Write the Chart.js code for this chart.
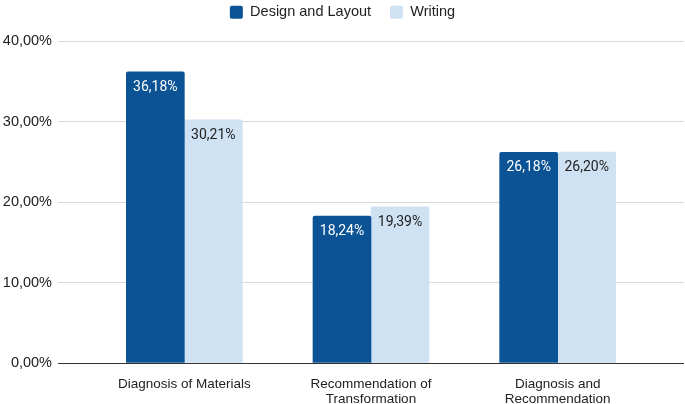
<!DOCTYPE html>
<html>
<head>
<meta charset="utf-8">
<script src="https://cdn.jsdelivr.net/npm/chart.js@4"></script>
<style>
  html, body { margin: 0; padding: 0; background: #fff; }
  #wrap { width: 685px; height: 404px; }
</style>
</head>
<body>
<div id="wrap"><canvas id="chart"></canvas></div>
<script>
// data
const categories = [
    ['Diagnosis of Materials'],
    ['Recommendation of', 'Transformation'],
    ['Diagnosis and', 'Recommendation']
];
const designLayout = [36.18, 18.24, 26.18];
const writing = [30.21, 19.39, 26.20];
const seriesNames = ['Design and Layout', 'Writing'];
const yTicks = [0, 10, 20, 30, 40];

const DARK = '#0b5394';
const LIGHT = '#cfe2f3';
const TEXT = '#222222';

function pct(v) {
    return v.toFixed(2).replace('.', ',') + '%';
}

// labels inside top of each bar
const barLabels = {
    id: 'barLabels',
    afterDatasetsDraw(chart) {
        const ctx = chart.ctx;
        ctx.save();
        ctx.font = '14px Roboto';
        ctx.textAlign = 'center';
        ctx.textBaseline = 'middle';
        chart.data.datasets.forEach((ds, i) => {
            const meta = chart.getDatasetMeta(i);
            ctx.fillStyle = ds.labelColor;
            meta.data.forEach((bar, j) => {
                ctx.fillText(pct(ds.data[j]), bar.x, bar.y + 15.5);
            });
        });
        ctx.restore();
    }
};

const gridCol = (c) => c.tick && c.tick.value === 0 ? '#333333' : '#d9d9d9';

const chart = new Chart(document.getElementById('chart'), {
    type: 'bar',
    data: {
        labels: categories,
        datasets: [
            {
                label: seriesNames[0],
                data: designLayout,
                backgroundColor: DARK,
                labelColor: '#ffffff',
                barThickness: 58,
                borderRadius: { topLeft: 2, topRight: 2 },
                borderSkipped: 'bottom'
            },
            {
                label: seriesNames[1],
                data: writing,
                backgroundColor: LIGHT,
                labelColor: TEXT,
                barThickness: 58,
                borderRadius: { topLeft: 2, topRight: 2 },
                borderSkipped: 'bottom'
            }
        ]
    },
    options: {
        responsive: true,
        maintainAspectRatio: false,
        animation: false,
        categoryPercentage: 0.644,
        plugins: {
            legend: {
                position: 'top',
                labels: {
                    color: TEXT,
                    font: { family: "'Liberation Sans', Arial", size: 14.5 },
                    boxWidth: 13,
                    boxHeight: 13,
                    useBorderRadius: true,
                    borderRadius: 2,
                    padding: 19
                }
            },
            tooltip: { enabled: false }
        },
        scales: {
            x: {
                grid: { display: false, drawTicks: false },
                border: { display: false },
                ticks: {
                    color: TEXT,
                    font: { family: "'Liberation Sans', Arial", size: 13.5, lineHeight: 1.1 },
                    padding: 14,
                    maxRotation: 0,
                    autoSkip: false
                },
                afterFit(scale) { scale.height = 41; }
            },
            y: {
                min: 0,
                max: 40,
                afterBuildTicks(scale) { scale.ticks = yTicks.map(v => ({ value: v })); },
                grid: { color: gridCol, tickColor: gridCol, tickLength: 33 },
                border: { display: false },
                ticks: {
                    color: TEXT,
                    font: { family: "'Liberation Sans', Arial", size: 14.5 },
                    padding: 6,
                    callback: (v) => pct(v)
                },
                afterFit(scale) { scale.width = 91; }
            },
            y2: {
                type: 'linear',
                position: 'right',
                min: 0,
                max: 40,
                afterBuildTicks(scale) { scale.ticks = yTicks.map(v => ({ value: v })); },
                grid: { drawOnChartArea: false, tickColor: gridCol, tickLength: 33 },
                border: { display: false },
                ticks: { display: false },
                afterFit(scale) { scale.width = 34; }
            }
        }
    },
    plugins: [barLabels]
});

// legend: wide item spacing but sits near the top, plot starts at y=41
const legend = chart.legend;
const legendFit = legend.fit;
legend.fit = function () {
    legendFit.call(this);
    this.height = 41;
};
const legendDraw = legend._draw;
legend._draw = function () {
    this.top -= 14;
    legendDraw.call(this);
    this.top += 14;
};
chart.update();
</script>
</body>
</html>
